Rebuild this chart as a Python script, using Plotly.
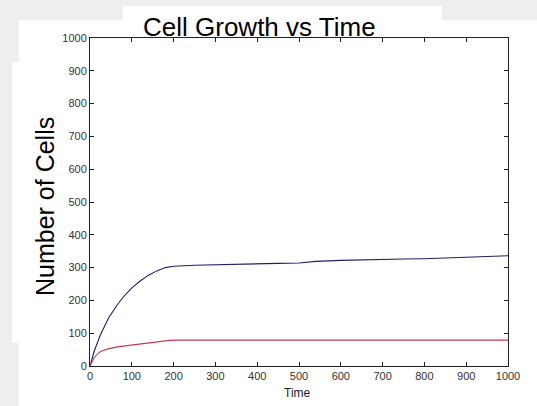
import plotly.graph_objects as go

# Cell counts over time for the two populations
time_blue = [0, 10, 25, 45, 65, 80, 100, 120, 140, 160, 180, 200, 250, 300, 350,
             400, 450, 500, 520, 540, 600, 650, 700, 750, 800, 850, 900, 950, 1000]
cells_blue = [0, 45, 95, 148, 186, 211, 238, 259, 277, 290, 300, 304, 307, 309, 311,
              312, 313, 314, 317, 319, 322, 324, 325, 326, 327, 329, 331, 334, 336]

time_red = [0, 10, 25, 45, 70, 100, 130, 160, 190, 210, 400, 600, 800, 1000]
cells_red = [0, 26, 44, 53, 59, 64, 69, 74, 78, 79, 79, 79, 79, 79]

x_ticks = [0, 100, 200, 300, 400, 500, 600, 700, 800, 900, 1000]
y_ticks = [0, 100, 200, 300, 400, 500, 600, 700, 800, 900, 1000]

W, H = 537, 406
ML, MR, MT, MB = 90, 29, 38, 40
PW, PH = W - ML - MR, H - MT - MB


def px_x(px):
    return (px - ML) / PW


def px_y(py):
    return (H - MB - py) / PH


fig = go.Figure()
fig.add_trace(go.Scatter(x=time_blue, y=cells_blue, mode="lines",
                         line=dict(color="#1f1f6b", width=1.1), showlegend=False))
fig.add_trace(go.Scatter(x=time_red, y=cells_red, mode="lines",
                         line=dict(color="#c33b52", width=1.1), showlegend=False))

# white figure panels over the grey window background
panels = [(19, 20, 537, 406), (123, 6, 442, 20), (12, 62, 19, 343)]
for x0, y0, x1, y1 in panels:
    fig.add_shape(type="rect", xref="paper", yref="paper",
                  x0=px_x(x0), x1=px_x(x1), y0=px_y(y1), y1=px_y(y0),
                  fillcolor="white", line=dict(width=0), layer="below")

axis_common = dict(
    showgrid=False, zeroline=False, showline=True, linecolor="#222222", linewidth=1,
    mirror="ticks", ticks="inside", ticklen=4, tickcolor="#222222", tickwidth=1,
    tickfont=dict(family="Liberation Sans, Arial, sans-serif", size=11, color="#333333"),
)

fig.update_xaxes(range=[0, 1000], tickvals=x_ticks, ticktext=[str(v) for v in x_ticks],
                 **axis_common)
fig.update_yaxes(range=[0, 1000], tickvals=y_ticks, ticktext=[str(v) for v in y_ticks],
                 **axis_common)

fig.add_annotation(text="Cell Growth vs Time", xref="paper", yref="paper",
                   x=px_x(259), y=px_y(27), xanchor="center", yanchor="middle",
                   showarrow=False,
                   font=dict(family="Liberation Sans, Arial, sans-serif", size=26, color="black"))
fig.add_annotation(text="Number of Cells", xref="paper", yref="paper",
                   x=px_x(45), y=px_y(207), xanchor="center", yanchor="middle",
                   textangle=-90, showarrow=False,
                   font=dict(family="Liberation Sans, Arial, sans-serif", size=25, color="black"))
fig.add_annotation(text="Time", xref="paper", yref="paper",
                   x=px_x(297), y=px_y(393), xanchor="center", yanchor="middle",
                   showarrow=False,
                   font=dict(family="Liberation Sans, Arial, sans-serif", size=12, color="#222222"))

fig.update_layout(
    width=W, height=H,
    margin=dict(l=ML, r=MR, t=MT, b=MB, pad=0),
    paper_bgcolor="#eeeeee", plot_bgcolor="white",
    showlegend=False,
)

fig.write_html("out.html")
